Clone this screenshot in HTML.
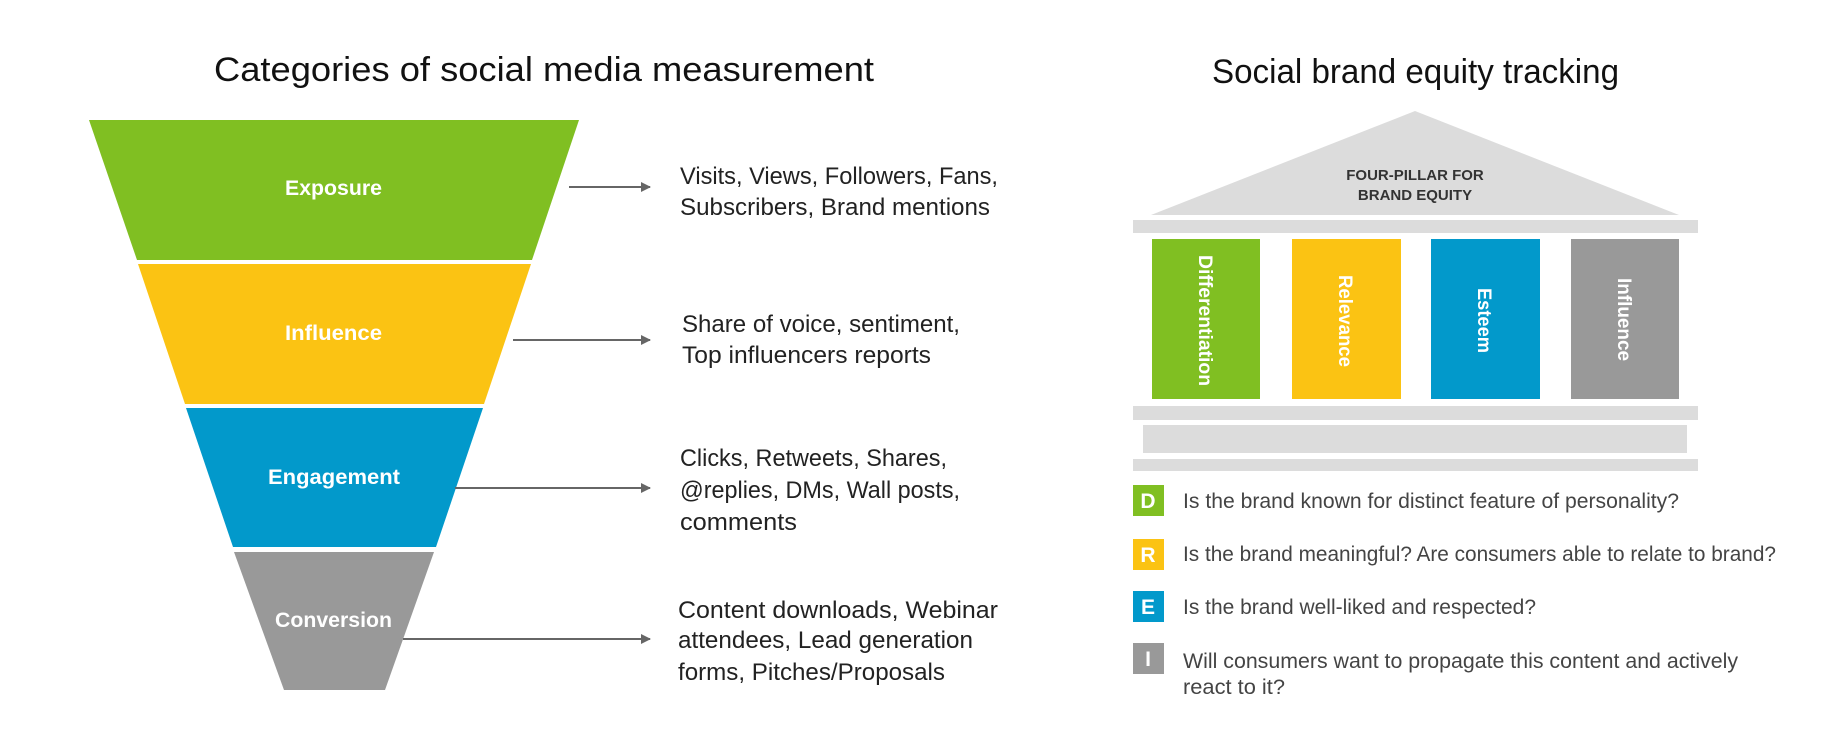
<!DOCTYPE html>
<html><head><meta charset="utf-8"><style>
html,body{margin:0;padding:0;background:#fff;width:1847px;height:750px;overflow:hidden}
svg{display:block}
text{font-family:"Liberation Sans",sans-serif}
</style></head><body>
<svg width="1847" height="750" viewBox="0 0 1847 750" xmlns="http://www.w3.org/2000/svg">
<defs><marker id="ah" markerWidth="10" markerHeight="10" refX="9" refY="5" orient="auto" markerUnits="userSpaceOnUse"><path d="M0,0 L10,5 L0,10 z" fill="#666"/></marker></defs>
<!-- left title -->
<text x="214" y="81" font-size="34" fill="#111" textLength="660" lengthAdjust="spacingAndGlyphs">Categories of social media measurement</text>
<!-- funnel -->
<polygon points="89,120 579,120 532,260 137,260" fill="#80bf22"/>
<polygon points="138,264 531,264 484,404 185,404" fill="#fbc313"/>
<polygon points="186,408 483,408 436,547 233,547" fill="#0299cb"/>
<polygon points="234,552 434,552 385,690 284,690" fill="#999"/>
<g fill="#fff" font-size="21" font-weight="bold">
<text x="285" y="195" textLength="97" lengthAdjust="spacingAndGlyphs">Exposure</text>
<text x="285" y="340" textLength="97" lengthAdjust="spacingAndGlyphs">Influence</text>
<text x="268" y="484" textLength="132" lengthAdjust="spacingAndGlyphs">Engagement</text>
<text x="275" y="627" textLength="117" lengthAdjust="spacingAndGlyphs">Conversion</text>
</g>
<g stroke="#666" stroke-width="2" marker-end="url(#ah)">
<line x1="569" y1="187" x2="650" y2="187"/>
<line x1="513" y1="340" x2="650" y2="340"/>
<line x1="455" y1="488" x2="650" y2="488"/>
<line x1="403" y1="639" x2="650" y2="639"/>
</g>
<g fill="#222" font-size="24">
<text x="680" y="184" textLength="318" lengthAdjust="spacingAndGlyphs">Visits, Views, Followers, Fans,</text>
<text x="680" y="215" textLength="310" lengthAdjust="spacingAndGlyphs">Subscribers, Brand mentions</text>
<text x="682" y="332" textLength="278" lengthAdjust="spacingAndGlyphs">Share of voice, sentiment,</text>
<text x="682" y="363" textLength="249" lengthAdjust="spacingAndGlyphs">Top influencers reports</text>
<text x="680" y="466" textLength="267" lengthAdjust="spacingAndGlyphs">Clicks, Retweets, Shares,</text>
<text x="680" y="498" textLength="280" lengthAdjust="spacingAndGlyphs">@replies, DMs, Wall posts,</text>
<text x="680" y="530" textLength="117" lengthAdjust="spacingAndGlyphs">comments</text>
<text x="678" y="618" textLength="320" lengthAdjust="spacingAndGlyphs">Content downloads, Webinar</text>
<text x="678" y="648" textLength="295" lengthAdjust="spacingAndGlyphs">attendees, Lead generation</text>
<text x="678" y="680" textLength="267" lengthAdjust="spacingAndGlyphs">forms, Pitches/Proposals</text>
</g>
<!-- right title -->
<text x="1212" y="83" font-size="34" fill="#111" textLength="407" lengthAdjust="spacingAndGlyphs">Social brand equity tracking</text>
<!-- temple -->
<polygon points="1415,111 1679,215 1151,215" fill="#dcdcdc"/>
<g fill="#333" font-size="15" font-weight="bold" text-anchor="middle">
<text x="1415" y="180">FOUR-PILLAR FOR</text>
<text x="1415" y="200">BRAND EQUITY</text>
</g>
<rect x="1133" y="220" width="565" height="13" fill="#dcdcdc"/>
<rect x="1152" y="239" width="108" height="160" fill="#80bf22"/>
<rect x="1292" y="239" width="109" height="160" fill="#fbc313"/>
<rect x="1431" y="239" width="109" height="160" fill="#0299cb"/>
<rect x="1571" y="239" width="108" height="160" fill="#999"/>
<g fill="#fff" font-size="19" font-weight="bold">
<text transform="translate(1199,255) rotate(90)" textLength="131" lengthAdjust="spacingAndGlyphs">Differentiation</text>
<text transform="translate(1339,275) rotate(90)" textLength="92" lengthAdjust="spacingAndGlyphs">Relevance</text>
<text transform="translate(1478,288) rotate(90)" textLength="65" lengthAdjust="spacingAndGlyphs">Esteem</text>
<text transform="translate(1618,278) rotate(90)" textLength="83" lengthAdjust="spacingAndGlyphs">Influence</text>
</g>
<rect x="1133" y="406" width="565" height="14" fill="#dcdcdc"/>
<rect x="1143" y="425" width="544" height="28" fill="#dcdcdc"/>
<rect x="1133" y="459" width="565" height="12" fill="#dcdcdc"/>
<!-- legend -->
<rect x="1133" y="485" width="31" height="31" fill="#80bf22"/>
<rect x="1133" y="539" width="31" height="31" fill="#fbc313"/>
<rect x="1133" y="591" width="31" height="31" fill="#0299cb"/>
<rect x="1133" y="643" width="31" height="31" fill="#999"/>
<g fill="#fff" font-size="21" font-weight="bold" text-anchor="middle">
<text x="1148" y="508">D</text><text x="1148" y="562">R</text><text x="1148" y="614">E</text><text x="1148" y="666">I</text>
</g>
<g fill="#444" font-size="21">
<text x="1183" y="508" textLength="496" lengthAdjust="spacingAndGlyphs">Is the brand known for distinct feature of personality?</text>
<text x="1183" y="561" textLength="593" lengthAdjust="spacingAndGlyphs">Is the brand meaningful? Are consumers able to relate to brand?</text>
<text x="1183" y="614" textLength="353" lengthAdjust="spacingAndGlyphs">Is the brand well-liked and respected?</text>
<text x="1183" y="668" textLength="555" lengthAdjust="spacingAndGlyphs">Will consumers want to propagate this content and actively</text>
<text x="1183" y="694" textLength="102" lengthAdjust="spacingAndGlyphs">react to it?</text>
</g>
</svg>
</body></html>
